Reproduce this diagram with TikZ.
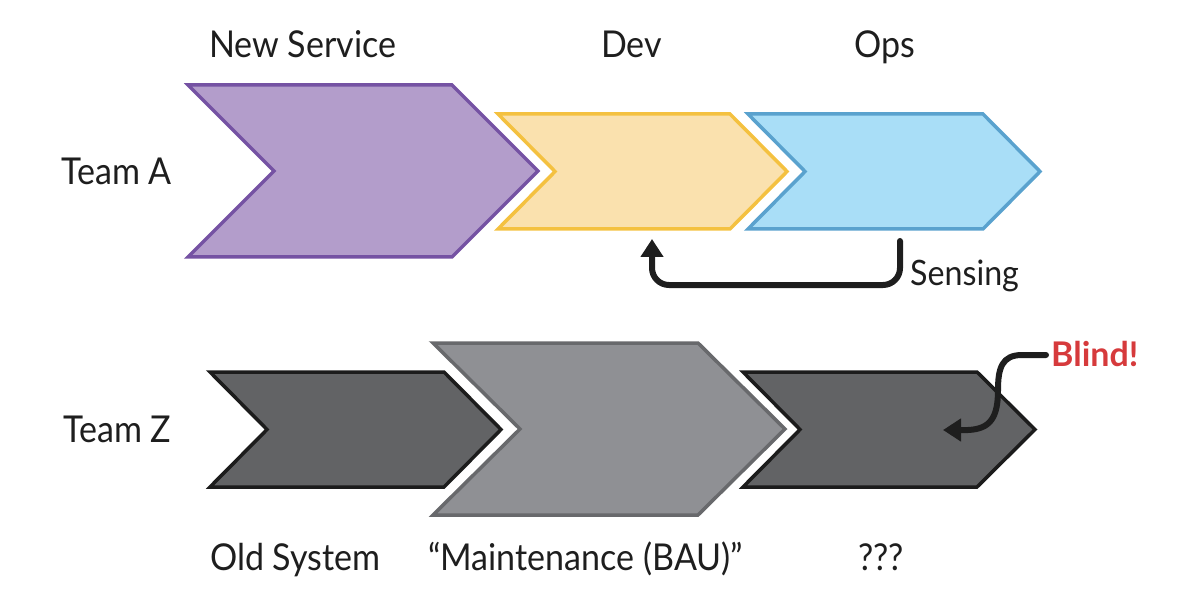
\documentclass[tikz,border=0pt]{standalone}
\usepackage{fontspec}
\setmainfont{Lato}[FakeStretch=0.92, BoldFeatures={FakeStretch=1}]
\usetikzlibrary{arrows.meta}
\definecolor{purpfill}{HTML}{B39DCB}
\definecolor{purpline}{HTML}{7552A3}
\definecolor{yelfill}{HTML}{FAE1AE}
\definecolor{yelline}{HTML}{F4C140}
\definecolor{bluefill}{HTML}{A9DEF7}
\definecolor{blueline}{HTML}{5AA2CE}
\definecolor{darkfill}{HTML}{626365}
\definecolor{darkline}{HTML}{1C1C1C}
\definecolor{midfill}{HTML}{8F9094}
\definecolor{midline}{HTML}{68696C}
\definecolor{blindred}{HTML}{D63A3C}
\definecolor{txt}{HTML}{1E1E1E}
\tikzset{
  chevshape/.style={line width=3.5pt, line join=miter},
  lbl/.style={anchor=base west, inner sep=0pt, text=txt, font=\fontsize{37}{42}\selectfont},
  feedback/.style={line width=6pt, draw=txt, line cap=round, -{Triangle[width=22pt,length=18pt]}},
}
\begin{document}
\begin{tikzpicture}[x=1pt,y=-1pt]
\useasboundingbox (0,0) rectangle (1193,612);
% Team A row
\draw[chevshape, fill=purpfill, draw=purpline] (188,85) -- (452,85) -- (538,171) -- (452,257) -- (188,257) -- (274,171) -- cycle;
\draw[chevshape, fill=yelfill, draw=yelline] (498,114) -- (730,114) -- (787,171.5) -- (730,229) -- (498,229) -- (555,171.5) -- cycle;
\draw[chevshape, fill=bluefill, draw=blueline] (748,114) -- (983,114) -- (1040,171.5) -- (983,229) -- (748,229) -- (805,171.5) -- cycle;
% Team Z row
\draw[chevshape, fill=darkfill, draw=darkline] (210,372) -- (444,372) -- (501,429.5) -- (444,487) -- (210,487) -- (267,429.5) -- cycle;
\draw[chevshape, fill=midfill, draw=midline] (433,343) -- (698,343) -- (785,429) -- (698,515) -- (433,515) -- (520,429) -- cycle;
\draw[chevshape, fill=darkfill, draw=darkline] (743,372) -- (977,372) -- (1035,429.5) -- (977,487) -- (743,487) -- (800,429.5) -- cycle;
% labels
\node[lbl] (teama) at (61,185) {Team A};
\node[lbl] (teamz) at (63,442) {Team Z};
\node[lbl] (newsvc) at (209,58) {New Service};
\node[lbl] (dev) at (601,58) {Dev};
\node[lbl] (ops) at (854,58) {Ops};
\node[lbl] (oldsys) at (210,570) {Old System};
\node[lbl] (maint) at (428,570) {“Maintenance (BAU)”};
\node[lbl] (qqq) at (858,570) {???};
\node[lbl, font=\fontsize{35}{40}\selectfont] (sensing) at (910,285) {Sensing};
\node[lbl, text=blindred, font=\fontsize{34}{38}\bfseries\selectfont] (blind) at (1051,366) {Blind!};
% connectors
\coordinate (sstart) at (900,241);
\coordinate (send) at (652,239);
\draw[feedback, rounded corners=17pt] (sstart) -- (900,285) -- (652,285) -- (send);
\coordinate (bstart) at (1046,355);
\coordinate (bend) at (943,430);
\draw[feedback] (bstart) -- (1022,355) .. controls (1002,355) and (998,368) .. (998,390)
  .. controls (998,418) and (990,429) .. (968,430) -- (bend);
\end{tikzpicture}
\end{document}
